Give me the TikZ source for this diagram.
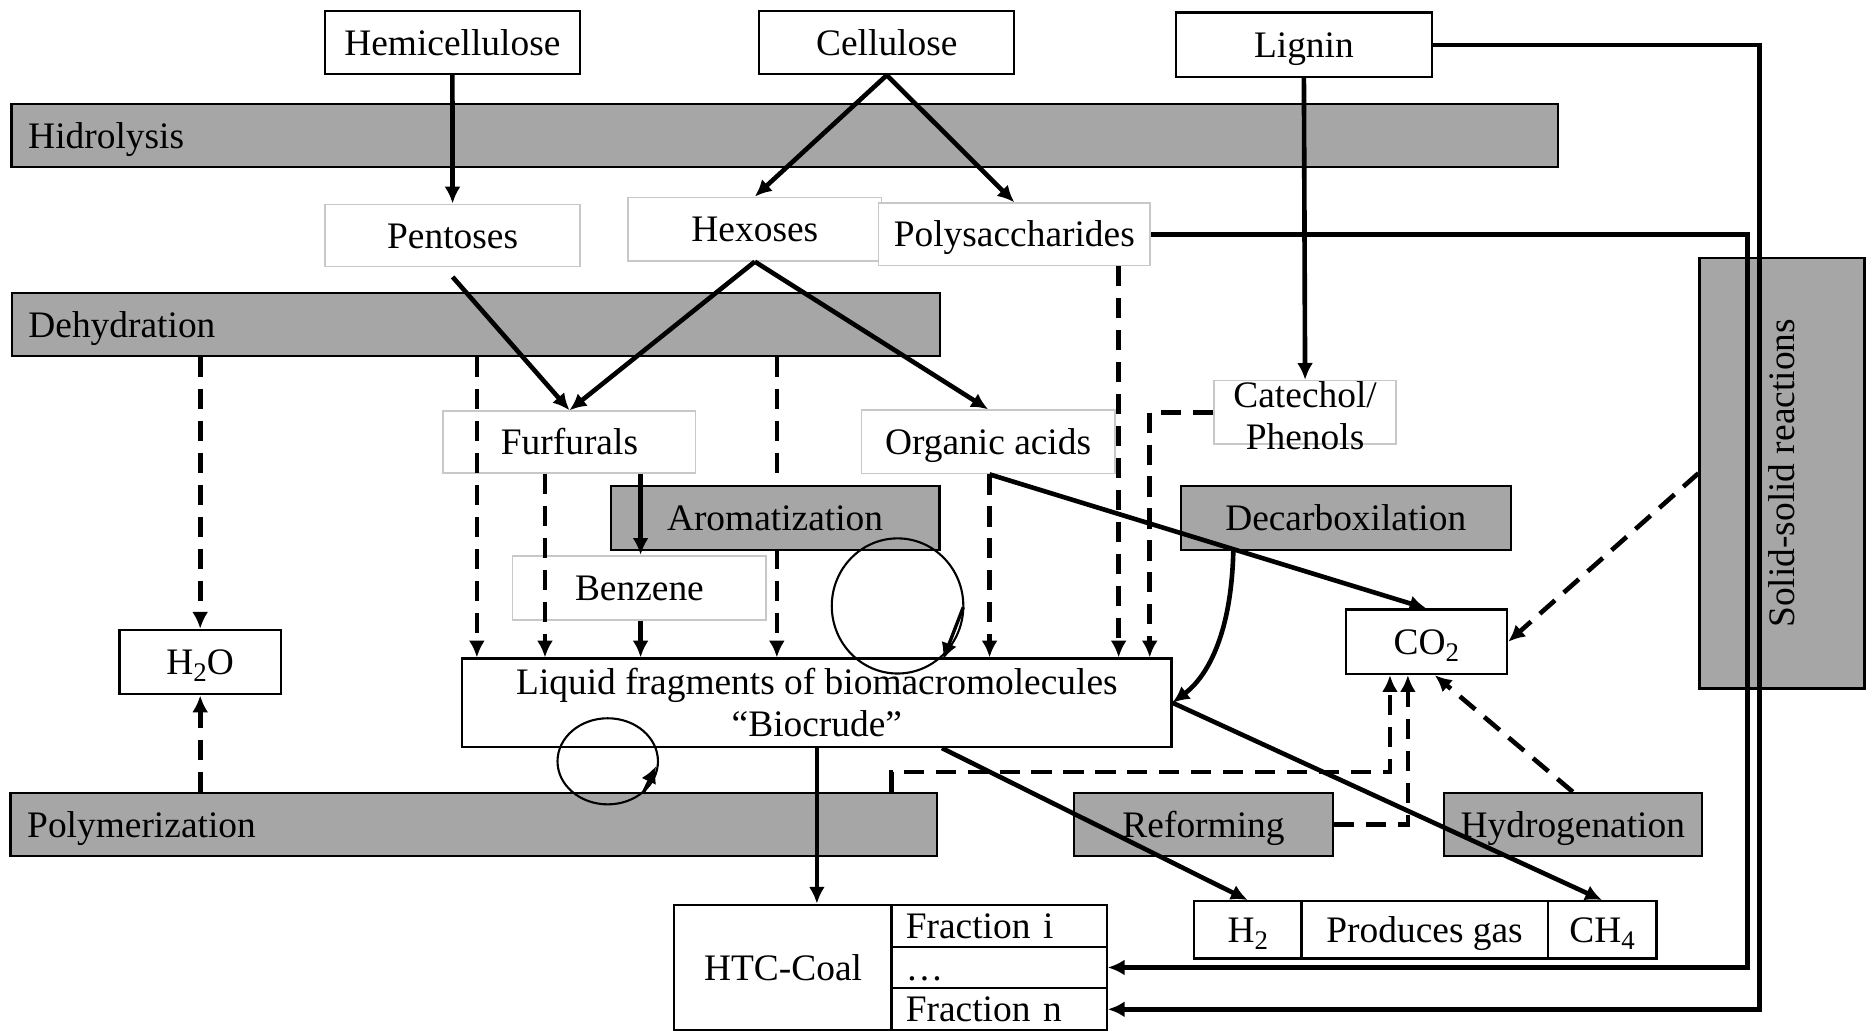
\documentclass[tikz,border=0pt]{standalone}
\usepackage{fontspec}
\setmainfont{Liberation Serif}
\usetikzlibrary{arrows.meta}
\definecolor{stagegray}{RGB}{166,166,166}
\definecolor{softgray}{RGB}{200,200,200}
\newcommand{\lowidx}[1]{\raisebox{-0.4ex}{\fontsize{6.4pt}{7pt}\selectfont #1}}

\tikzset{
  frame/.style={draw, line width=0.5pt, fill=white, inner sep=0pt},
  whitebox/.style={frame, text height=7.9pt, text depth=1.9pt},
  softbox/.style={whitebox, draw=softgray, line width=0.4pt},
  stage/.style={whitebox, fill=stagegray},
  flow/.style={-{Latex[length=4pt,width=3.8pt]}, line width=1.1pt},
  side/.style={flow, dash pattern=on 4.8pt off 2.8pt},
}

\begin{document}
\begin{tikzpicture}[x=0.01cm, y=-0.01cm, font=\fontsize{8.9pt}{10.1pt}\selectfont]
    \useasboundingbox (0,0) rectangle (1568,863);

    % reaction stages
    \node[stage, minimum width=12.93cm, minimum height=0.53cm, inner xsep=0.14cm, text width=12.65cm, align=left] (hid) at (656.5,113.5) {Hidrolysis};
    \node[stage, minimum width=7.76cm, minimum height=0.53cm, inner xsep=0.14cm, text width=7.48cm, align=left] (deh) at (398,271.5) {Dehydration};
    \node[stage, minimum width=7.75cm, minimum height=0.53cm, inner xsep=0.14cm, text width=7.47cm, align=left] (pol) at (396.5,690) {Polymerization};
    \node[stage, minimum width=2.76cm, minimum height=0.53cm] (dec) at (1126,433.5) {Decarboxilation};
    \node[stage, minimum width=2.16cm, minimum height=0.53cm] (ref) at (1007,690) {Reforming};
    \node[stage, minimum width=2.16cm, minimum height=0.53cm] (hyd) at (1316,690) {Hydrogenation};
    \node[stage, minimum width=1.38cm, minimum height=3.60cm] (sol) at (1491,396) {};
    \node[rotate=90] (soltxt) at (sol) {Solid-solid reactions};

    % biomass
    \node[whitebox, minimum width=2.13cm, minimum height=0.53cm] (hemi) at (378.5,35.5) {Hemicellulose};
    \node[whitebox, minimum width=2.13cm, minimum height=0.53cm] (cellu) at (742,35.5) {Cellulose};
    \node[whitebox, minimum width=2.14cm, minimum height=0.54cm] (lig) at (1091,37.5) {Lignin};

    % intermediates
    \node[softbox, minimum width=2.13cm, minimum height=0.52cm] (pent) at (378.7,197) {Pentoses};
    \node[softbox, minimum width=2.12cm, minimum height=0.53cm] (hex) at (631.6,191.7) {Hexoses};
    \node[softbox, minimum width=2.27cm, minimum height=0.52cm] (polys) at (848.7,196) {Polysaccharides};
    \node[softbox, minimum width=2.11cm, minimum height=0.52cm] (furf) at (476.5,370) {Furfurals};
    \node[softbox, minimum width=2.12cm, minimum height=0.53cm] (org) at (826.8,369.7) {Organic acids};
    \node[softbox, minimum width=2.12cm, minimum height=0.54cm] (benz) at (535,492) {Benzene};
    \node[softbox, minimum width=1.52cm, minimum height=0.53cm] (cat) at (1092,345) {};
    \node[align=center, inner sep=0pt] (cattxt) at (1092,348) {Catechol/\\Phenols};

    % products
    \node[whitebox, minimum width=1.35cm, minimum height=0.54cm] (h2o) at (167.5,554) {H\lowidx{2}O};
    \node[frame, minimum width=5.93cm, minimum height=0.74cm, align=center] (bio) at (683.5,588) {Liquid fragments of biomacromolecules\\``Biocrude''};
    \node[whitebox, minimum width=1.35cm, minimum height=0.54cm] (co2) at (1193.5,537) {CO\lowidx{2}};
    \node[whitebox, minimum width=1.82cm, minimum height=1.05cm] (htc) at (655.2,809.5) {HTC-Coal};
    \node[whitebox, minimum width=1.80cm, minimum height=0.35cm, inner xsep=0.12cm, text width=1.56cm, align=left] (fri) at (836,774.5) {Fraction i};
    \node[whitebox, minimum width=1.80cm, minimum height=0.35cm, inner xsep=0.12cm, text width=1.56cm, align=left] (frd) at (836,809.5) {\ldots};
    \node[whitebox, minimum width=1.80cm, minimum height=0.35cm, inner xsep=0.12cm, text width=1.56cm, align=left] (frn) at (836,844.5) {Fraction n};
    \node[whitebox, minimum width=0.90cm, minimum height=0.48cm] (gh2) at (1044,778) {H\lowidx{2}};
    \node[whitebox, minimum width=2.06cm, minimum height=0.48cm] (gas) at (1192,778) {Produces gas};
    \node[whitebox, minimum width=0.91cm, minimum height=0.48cm] (gch4) at (1340.5,778) {CH\lowidx{4}};

    % columns of the vertical connectors
    \coordinate (cd) at (399,0);
    \coordinate (cf) at (456,0);
    \coordinate (cb) at (536,0);
    \coordinate (ca) at (650,0);
    \coordinate (co) at (828,0);
    \coordinate (cp) at (936,0);
    \coordinate (cc) at (962,0);
    \coordinate (cq) at (1163,0);
    \coordinate (cs) at (1178,0);
    \coordinate (cr) at (746,646);
    \coordinate (rp) at (1462,0);
    \coordinate (rl) at (1472,0);

    % runs under the aromatization stage
    \draw[side] (deh.south -| ca) -- (bio.north -| ca);
    \node[stage, minimum width=2.75cm, minimum height=0.53cm] (aro) at (648.5,433.5) {Aromatization};

    \draw[flow] (hemi) -- (pent);
    \draw[flow] (cellu.south) -- (hex.north);
    \draw[flow] (cellu.south) -- (polys.north);
    \draw[flow] (lig.south) -- (cat.north);
    \draw[flow] (lig.east) -| (rl |- frn.east) -- (frn.east);
    \draw[flow] (polys.east) -| (rp |- frd.east) -- (frd.east);
    \draw[flow] ([yshift=-0.08cm]pent.south) -- (furf.north);
    \draw[flow] (hex.south) -- (furf.north);
    \draw[flow] (hex.south) -- (org.north);
    \draw[flow] (furf.south -| cb) -- (benz.north -| cb);
    \draw[flow] (benz.south -| cb) -- (bio.north -| cb);
    \draw[flow] (org.south -| co) -- (co2.north);
    \draw[flow] ([xshift=-0.94cm]dec.south) .. controls (1030,540) and (1005,570) .. (bio.east);
    \draw[flow] (bio.south) -- (bio.south |- htc.north);
    \draw[flow] ([xshift=1.045cm]bio.south) -- (gh2.north);
    \draw[flow] (bio.east) -- (gch4.north);

    \draw[side] (deh.south -| h2o) -- (h2o.north);
    \draw[side] (pol.north -| h2o) -- (h2o.south);
    \draw[side] (deh.south -| cd) -- (bio.north -| cd);
    \draw[side] (furf.south -| cf) -- (bio.north -| cf);
    \draw[side] (org.south -| co) -- (bio.north -| co);
    \draw[side] (polys.south -| cp) -- (bio.north -| cp);
    \draw[side] (cat.west) -| (bio.north -| cc);
    \draw[side] (pol.north -| cr) -- (cr) -| (co2.south -| cq);
    \draw[side] (ref.east) -| (co2.south -| cs);
    \draw[side] (hyd.north) -- ([xshift=0.07cm]co2.south);
    \draw[side] (sol.west) -- (co2.east);

    % cycles
    \draw[line width=0.5pt] (751,507) ellipse [x radius=0.55cm, y radius=0.565cm];
    \draw[flow, line width=0.8pt] (806,508) -- (789,552);
    \draw[line width=0.5pt] (508.5,637) ellipse [x radius=0.42cm, y radius=0.36cm];
    \draw[flow, line width=0.8pt] (538,664) -- (549,641);
\end{tikzpicture}
\end{document}
